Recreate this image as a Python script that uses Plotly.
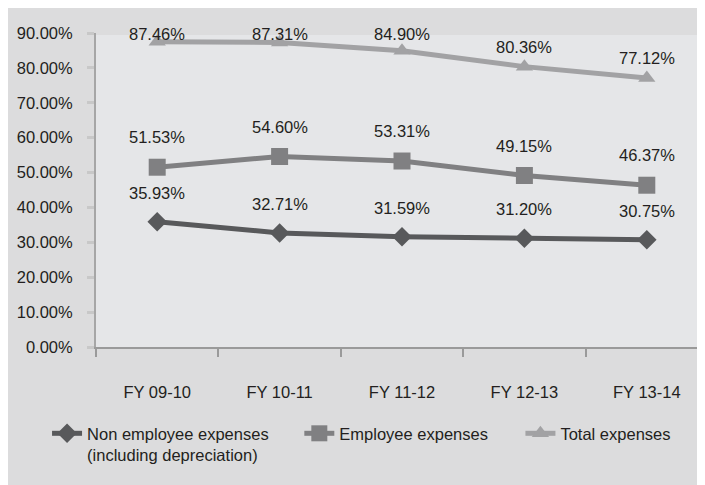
import plotly.graph_objects as go

categories = ["FY 09-10", "FY 10-11", "FY 11-12", "FY 12-13", "FY 13-14"]
non_employee = [35.93, 32.71, 31.59, 31.20, 30.75]
employee = [51.53, 54.60, 53.31, 49.15, 46.37]
total = [87.46, 87.31, 84.90, 80.36, 77.12]
y_ticks = [0, 10, 20, 30, 40, 50, 60, 70, 80, 90]

series_names = ["Non employee expenses<br>(including depreciation)", "Employee expenses", "Total expenses"]

FONT = "Liberation Sans, Arial, sans-serif"
FS = 16.5
TXT = "#231f20"

fig = go.Figure()
styles = [
    dict(color="#58595b", symbol="diamond", size=15),
    dict(color="#808082", symbol="square", size=17),
    dict(color="#a2a2a4", symbol="triangle-up", size=15),
]
pad = ["\u00a0" * 8, "\u00a0" * 6, ""]
for name, vals, st, p in zip(series_names, [non_employee, employee, total], styles, pad):
    fig.add_trace(go.Scatter(
        x=categories, y=vals, name=name + p, mode="lines+markers",
        line=dict(color=st["color"], width=5),
        marker=dict(color=st["color"], symbol=st["symbol"], size=st["size"]),
        hoverinfo="skip",
    ))

annotations = []
for vals, shift, cap in [(non_employee, 29, 200), (employee, 30, 200), (total, 20, 84.0)]:
    for c, v in zip(categories, vals):
        annotations.append(dict(
            x=c, y=min(v, cap), yshift=shift, text=f"{v:.2f}%", showarrow=False,
            font=dict(family=FONT, size=FS, color=TXT),
        ))

shapes = [
    dict(type="rect", xref="paper", yref="paper", x0=0, x1=1.0, y0=0, y1=0.9936,
         fillcolor="#e5e6e8", line=dict(width=0), layer="below"),
]

fig.update_layout(
    width=705, height=485,
    margin=dict(l=88, r=5, t=25, b=146),
    paper_bgcolor="#dcdcdd", plot_bgcolor="rgba(0,0,0,0)",
    font=dict(family=FONT, size=FS, color=TXT),
    showlegend=True,
    legend=dict(orientation="h", x=-0.08, xanchor="left", y=-0.22, yanchor="top",
                valign="top", bgcolor="rgba(0,0,0,0)", font=dict(family=FONT, size=FS, color=TXT),
                itemclick=False, tracegroupgap=0),
    annotations=annotations,
    shapes=shapes,
)
fig.update_xaxes(
    type="category", range=[-0.5, 4.5], showgrid=False, showline=True, linecolor="#9a9a9a", linewidth=2,
    ticks="outside", tickson="boundaries", ticklen=8, tickwidth=2, tickcolor="#9a9a9a",
    ticklabelstandoff=29, tickfont=dict(family=FONT, size=FS, color=TXT),
)
fig.update_yaxes(
    range=[0, 90], tickvals=y_ticks, ticktext=[f"{v:.2f}%" for v in y_ticks],
    showgrid=False, zeroline=False,
    showline=True, linecolor="#a6a6a6", linewidth=2,
    ticks="outside", ticklen=7, tickwidth=3, tickcolor="#c8c8c8",
    ticklabelstandoff=11, tickfont=dict(family=FONT, size=FS, color=TXT),
)
fig.write_html("out.html")
